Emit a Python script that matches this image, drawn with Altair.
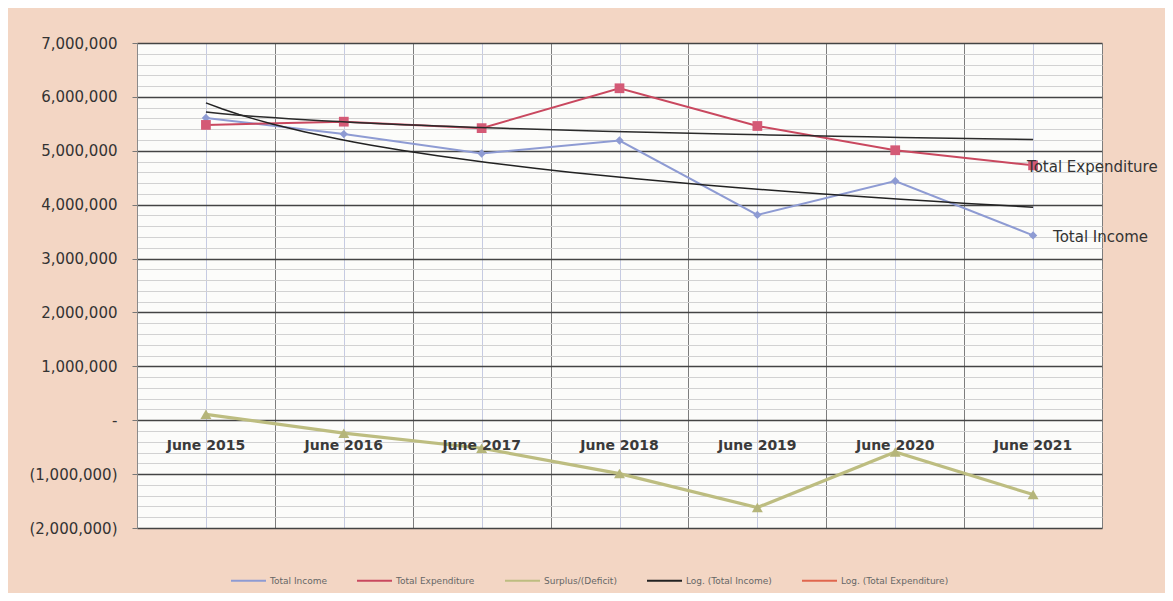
import altair as alt
import pandas as pd

years = ["June 2015", "June 2016", "June 2017", "June 2018", "June 2019", "June 2020", "June 2021"]
income = [5610000, 5310000, 4950000, 5190000, 3810000, 4440000, 3430000]
expenditure = [5480000, 5540000, 5420000, 6160000, 5460000, 5010000, 4730000]
surplus = [110000, -240000, -520000, -990000, -1620000, -590000, -1380000]

series_names = ["Total Income", "Total Expenditure", "Surplus/(Deficit)",
                "Log. (Total Income)", "Log. (Total Expenditure)"]
series_colors = ["#8e9bd3", "#c9485f", "#bdbd80", "#222222", "#e0664e"]
marker_colors = ["#8e9bd3", "#d45a76", "#b5b57a"]
marker_shapes = ["diamond", "square", "triangle-up"]
marker_sizes = [70, 120, 45]

y_ticks = list(range(-2000000, 7000001, 1000000))
y_minor = list(range(-2000000, 7000001, 200000))

idx = list(range(1, len(years) + 1))
bounds = [i - 0.5 for i in idx] + [idx[-1] + 0.5]

wide = pd.DataFrame({"idx": idx, "year": years, "inc": income, "exp": expenditure, "sur": surplus})
long = pd.DataFrame({
    "idx": idx * 3,
    "year": years * 3,
    "series": [series_names[0]] * len(idx) + [series_names[1]] * len(idx) + [series_names[2]] * len(idx),
    "value": income + expenditure + surplus,
})

xs = alt.Scale(domain=[0.5, len(idx) + 0.5], nice=False, zero=False)
ys = alt.Scale(domain=[-2000000, 7000000], nice=False, zero=False)

label_expr = ("datum.value == 0 ? '-' : (datum.value < 0 ? '(' + format(-datum.value, ',') + ')' "
              ": format(datum.value, ','))")

# minor grid carrier
grid_minor = alt.Chart(long).mark_line(strokeOpacity=0).encode(
    x=alt.X("idx:Q", scale=xs, axis=alt.Axis(orient="top", values=idx, grid=True, gridColor="#c6cbe2",
                                             gridWidth=1, labels=False, ticks=False, domain=False, title=None)),
    y=alt.Y("value:Q", scale=ys, axis=alt.Axis(orient="right", values=y_minor, grid=True, gridColor="#d2d2d2",
                                               gridWidth=1, labels=False, ticks=False, domain=False, title=None)),
)

lines = alt.Chart(long).mark_line().encode(
    x=alt.X("idx:Q", scale=xs, axis=alt.Axis(orient="bottom", values=bounds, grid=True, gridColor="#7d7d7d",
                                             gridWidth=1, labels=False, ticks=False, domain=False, title=None)),
    y=alt.Y("value:Q", scale=ys, axis=alt.Axis(orient="left", values=y_ticks, grid=True, gridColor="#444444",
                                               gridWidth=1.3, labelExpr=label_expr, labelFont="DejaVu Sans",
                                               labelFontSize=15, labelColor="#333333", labelPadding=15,
                                               tickSize=5, tickColor="#777777", domain=True,
                                               domainColor="#8a8a8a", title=None)),
    color=alt.Color("series:N", scale=alt.Scale(domain=series_names, range=series_colors),
                    legend=alt.Legend(title=None, orient="none", legendX=93, legendY=519,
                                      direction="horizontal", columns=5, symbolType="stroke",
                                      symbolSize=1225, symbolStrokeWidth=2, labelFont="DejaVu Sans",
                                      labelFontSize=9, labelColor="#666666", columnPadding=26,
                                      labelOffset=3)),
    strokeWidth=alt.condition(alt.datum.series == "Surplus/(Deficit)", alt.value(3.2), alt.value(2)),
)

markers = alt.Chart(long).mark_point(filled=True, opacity=1).encode(
    x=alt.X("idx:Q", scale=xs, axis=None),
    y=alt.Y("value:Q", scale=ys, axis=None),
    color=alt.Color("series:N", scale=alt.Scale(domain=series_names[:3], range=marker_colors), legend=None),
    shape=alt.Shape("series:N", scale=alt.Scale(domain=series_names[:3], range=marker_shapes), legend=None),
    size=alt.Size("series:O", scale=alt.Scale(domain=series_names[:3], range=marker_sizes), legend=None),
)

trend_inc = alt.Chart(wide).transform_regression(
    "idx", "inc", method="log", extent=[1, len(idx)]
).mark_line(color="#222222", strokeWidth=1.5).encode(
    x=alt.X("idx:Q", scale=xs, axis=None),
    y=alt.Y("inc:Q", scale=ys, axis=None),
)

trend_exp = alt.Chart(wide).transform_regression(
    "idx", "exp", method="log", extent=[1, len(idx)]
).mark_line(color="#2a2a2a", strokeWidth=1.5).encode(
    x=alt.X("idx:Q", scale=xs, axis=None),
    y=alt.Y("exp:Q", scale=ys, axis=None),
)

xlabels = alt.Chart(wide).mark_text(font="DejaVu Sans", fontWeight="bold", fontSize=14,
                                    color="#3a3a3a", dy=26).encode(
    x=alt.X("idx:Q", scale=xs, axis=None),
    y=alt.YDatum(0, type="quantitative", scale=ys, axis=None),
    text="year:N",
)

end_exp = alt.Chart(wide).transform_filter(alt.datum.idx == len(idx)).transform_calculate(
    lab="'Total Expenditure'"
).mark_text(font="DejaVu Sans", fontSize=15, color="#333333", align="left", dx=-6, dy=2).encode(
    x=alt.X("idx:Q", scale=xs, axis=None),
    y=alt.Y("exp:Q", scale=ys, axis=None),
    text="lab:N",
)

end_inc = alt.Chart(wide).transform_filter(alt.datum.idx == len(idx)).transform_calculate(
    lab="'Total Income'"
).mark_text(font="DejaVu Sans", fontSize=15, color="#333333", align="left", dx=20, dy=2).encode(
    x=alt.X("idx:Q", scale=xs, axis=None),
    y=alt.Y("inc:Q", scale=ys, axis=None),
    text="lab:N",
)

chart = alt.layer(
    grid_minor, lines, markers, trend_inc, trend_exp, xlabels, end_exp, end_inc
).resolve_axis(x="independent", y="independent").resolve_scale(
    x="shared", y="shared", color="independent", shape="independent", size="independent"
).properties(
    width=965, height=485,
    autosize=alt.AutoSizeParams(type="none"),
    padding={"left": 129, "top": 35, "right": 63, "bottom": 65},
    background="#f3d6c4",
).configure_view(fill="#fcfcfa", stroke="#9a9a9a", strokeWidth=1)

chart.save("out.html", embed_options={"renderer": "svg", "actions": False})
